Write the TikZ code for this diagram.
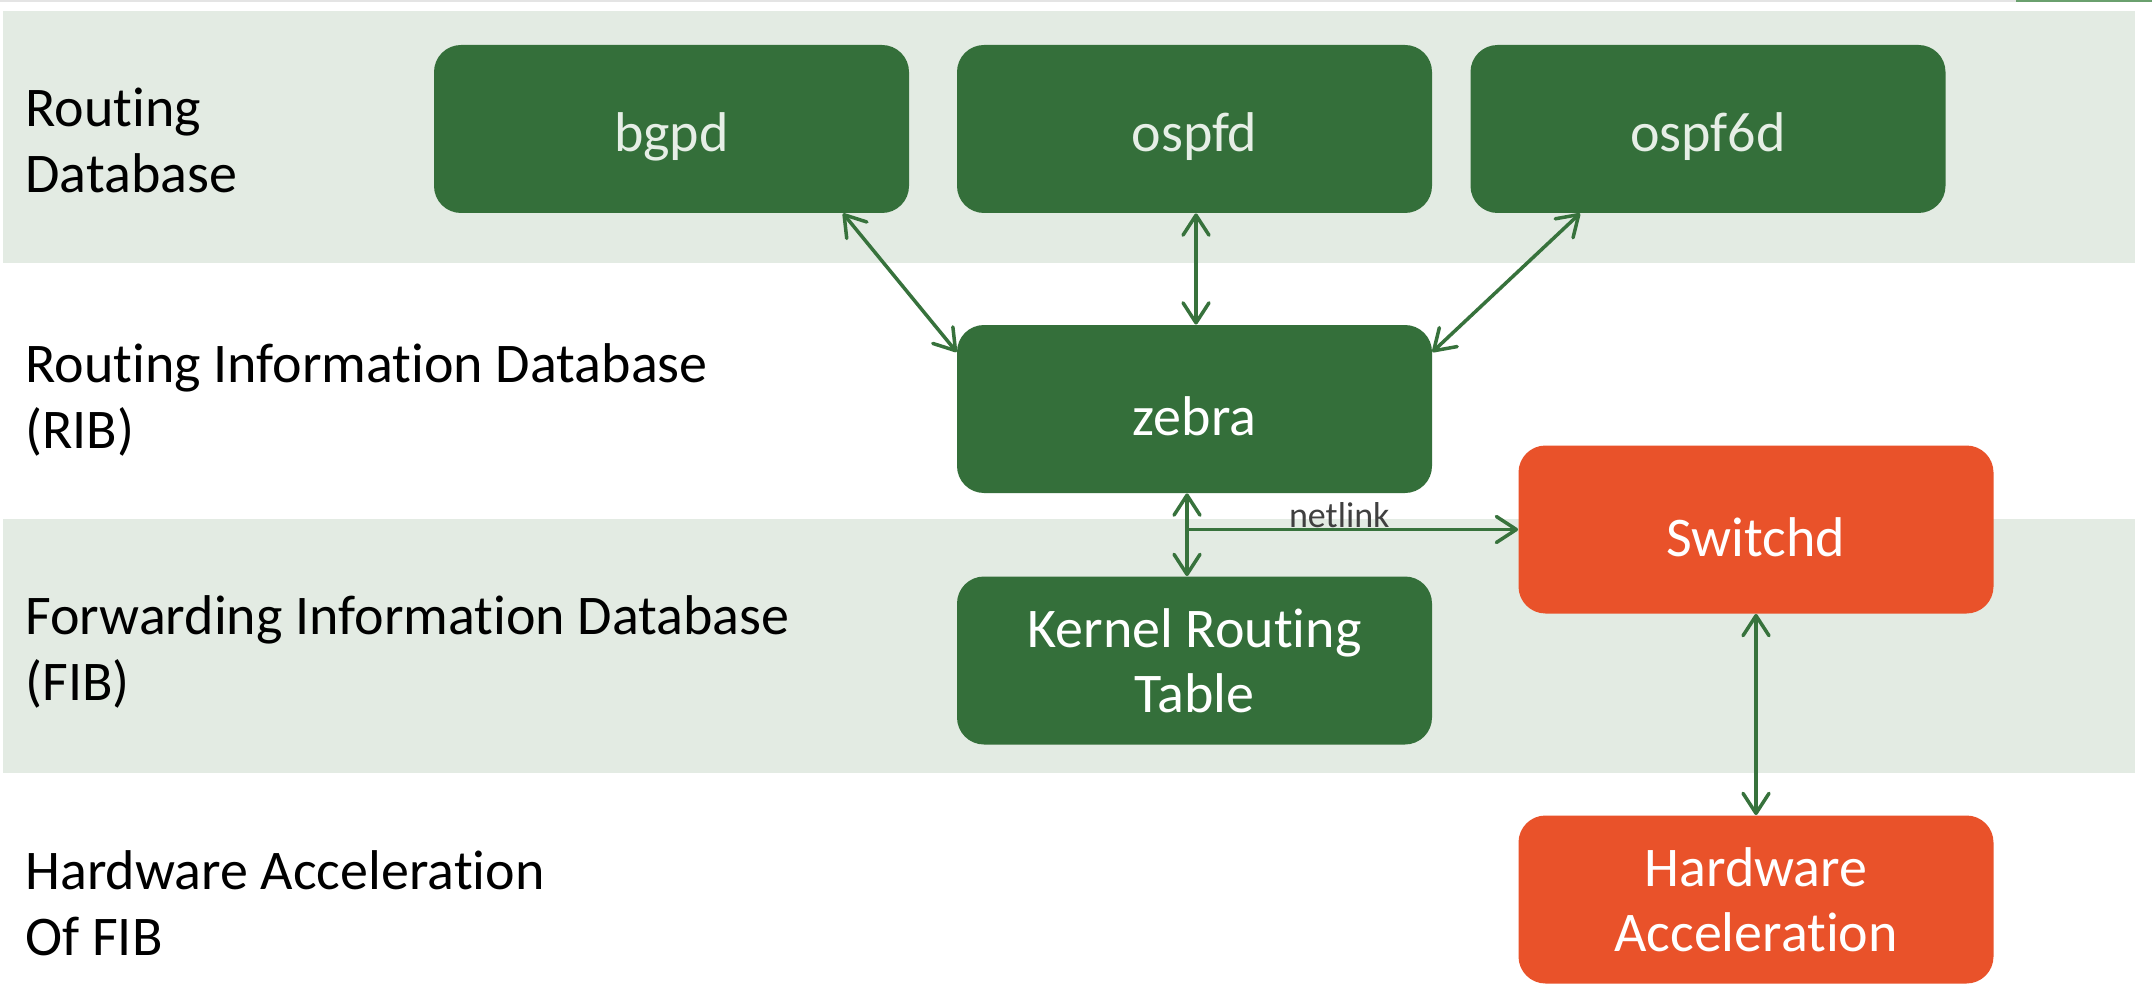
\documentclass[tikz,border=0pt]{standalone}
\usepackage{fontspec}
\setmainfont{Carlito}[Ligatures={NoCommon,NoRare,NoContextual},Contextuals=NoAlternate]
\usetikzlibrary{arrows.meta,calc}
\definecolor{bandcol}{HTML}{E3EBE3}
\definecolor{boxgreen}{HTML}{346F3A}
\definecolor{boxorange}{HTML}{E9522A}
\definecolor{arrowgreen}{HTML}{37723C}
\definecolor{toptext}{HTML}{E6EEE6}
\definecolor{nltext}{HTML}{404040}
\definecolor{topgray}{HTML}{E4E4E4}
\definecolor{topgreen}{HTML}{6AA06E}
\begin{document}
\begin{tikzpicture}[x=0.5pt,y=-0.5pt,
  box/.style={rounded corners=13.5pt, minimum width=237.5pt, minimum height=84pt,
    inner sep=0pt, align=center, font=\fontsize{28pt}{32.5pt}\selectfont,
    execute at begin node={\rule{0pt}{27pt}}},
  gbox/.style={box, fill=boxgreen, text=white},
  obox/.style={box, fill=boxorange, text=white},
  lbl/.style={anchor=west, align=left, inner sep=0pt, font=\fontsize{28pt}{33pt}\selectfont},
  tip/.tip={Straight Barb[length=10pt,width=13pt,line cap=round,line join=round]},
  conn/.style={draw=arrowgreen, line width=1.75pt, line cap=round},
]
\useasboundingbox (0,0) rectangle (2152,1000);
\fill[white] (0,0) rectangle (2152,1000);
\fill[topgray] (0,0) rectangle (2016,2);
\fill[topgreen] (2016,0) rectangle (2152,2);
\fill[bandcol] (3,11) rectangle (2135,263);
\fill[bandcol] (3,519) rectangle (2135,773);

% left labels
\node[lbl] (l1) at (25,140) {Routing\\Database};
\node[lbl] (l2) at (25,400) {Routing Information Database\\(RIB)};
\node[lbl] (l3) at (25,652) {Forwarding Information Database\\(FIB)};
\node[lbl] (l4) at (25,903) {Hardware Acceleration\\Of FIB};

% boxes
\node[gbox, text=toptext] (bgpd) at (671.5,129) {bgpd};
\node[gbox, text=toptext] (ospfd) at (1194.5,129) {ospfd};
\node[gbox, text=toptext] (ospf6d) at (1708,129) {ospf6d};
\node[gbox] (zebra) at (1194.5,409) {zebra};
\node[gbox] (kernel) at (1194.5,660.5) {Kernel Routing\\Table};
\node[obox] (sw) at (1756,529.5) {Switchd};
\node[obox] (hw) at (1756,899.5) {Hardware\\Acceleration};

% connectors
\draw[conn, tip-tip] ([xshift=85.75pt]bgpd.south) -- ([yshift=28.5pt]zebra.west);
\draw[conn, tip-tip] ([xshift=0.75pt]ospfd.south) -- ([xshift=0.75pt]zebra.north);
\draw[conn, tip-tip] ([xshift=-64pt]ospf6d.south) -- ([yshift=28.5pt]zebra.east);
\draw[conn, tip-tip] ([xshift=-3.75pt]zebra.south) -- ([xshift=-3.75pt]kernel.north);
\coordinate (nl) at ([xshift=-3.75pt]zebra.south |- sw.west);
\draw[conn, -tip] (nl) -- (sw.west)
  node[pos=0.46, anchor=base, yshift=1pt, inner sep=0pt, text=nltext,
       font=\fontsize{18pt}{20pt}\selectfont] (nlabel) {netlink};
\draw[conn, tip-tip] (sw.south) -- (hw.north);
\end{tikzpicture}
\end{document}
